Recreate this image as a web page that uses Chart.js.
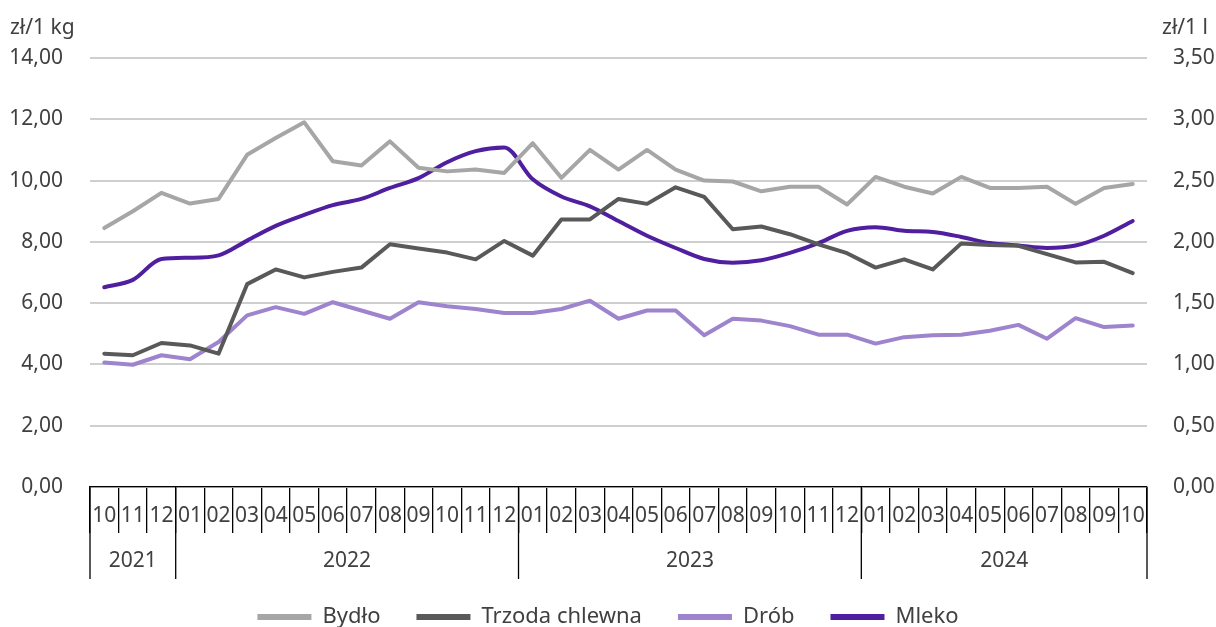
<!DOCTYPE html>
<html><head><meta charset="utf-8">
<script src="https://cdn.jsdelivr.net/npm/chart.js@4"></script>
<style>html,body{margin:0;padding:0;background:#fff}</style>
</head><body>
<canvas id="c" width="1216" height="627" style="width:1216px;height:627px;display:block"></canvas>
<script>
const months = ['10','11','12','01','02','03','04','05','06','07','08','09','10','11','12','01','02','03','04','05','06','07','08','09','10','11','12','01','02','03','04','05','06','07','08','09','10'];
const categoryYears = ['2021','2021','2021',
  '2022','2022','2022','2022','2022','2022','2022','2022','2022','2022','2022','2022',
  '2023','2023','2023','2023','2023','2023','2023','2023','2023','2023','2023','2023',
  '2024','2024','2024','2024','2024','2024','2024','2024','2024','2024'];
const bydlo = [8.45,9.0,9.6,9.25,9.4,10.84,11.39,11.9,10.63,10.49,11.28,10.42,10.3,10.36,10.25,11.22,10.09,11.0,10.36,11.0,10.36,10.0,9.97,9.65,9.8,9.8,9.22,10.12,9.8,9.58,10.12,9.76,9.76,9.8,9.24,9.76,9.89];
const trzoda = [4.35,4.3,4.7,4.62,4.35,6.62,7.1,6.84,7.02,7.16,7.92,7.78,7.65,7.43,8.03,7.55,8.73,8.73,9.4,9.24,9.78,9.47,8.41,8.5,8.25,7.92,7.63,7.16,7.43,7.1,7.95,7.9,7.87,7.6,7.33,7.35,6.98];
const drob = [4.06,3.99,4.3,4.17,4.73,5.6,5.87,5.65,6.03,5.76,5.49,6.03,5.9,5.81,5.68,5.68,5.81,6.08,5.49,5.76,5.76,4.95,5.49,5.43,5.25,4.97,4.97,4.68,4.89,4.95,4.97,5.1,5.29,4.84,5.51,5.22,5.27];
const mleko = [1.63,1.69,1.86,1.87,1.89,2.01,2.13,2.22,2.30,2.35,2.44,2.52,2.65,2.74,2.77,2.51,2.37,2.29,2.17,2.05,1.95,1.86,1.83,1.85,1.91,1.99,2.09,2.12,2.09,2.08,2.04,1.99,1.97,1.95,1.97,2.05,2.17];

const FONT = "'Noto Sans', 'Open Sans', sans-serif";
const TXT = '#404040';
const FS = 22;
const fmt = v => Number(v).toFixed(2).replace('.', ',');

const extras = {
  id: 'extras',
  afterDraw(chart) {
    const ctx = chart.ctx, xs = chart.scales.x;
    const half = (xs.getPixelForValue(1) - xs.getPixelForValue(0)) / 2;
    const top = xs.top;
    ctx.save();
    ctx.strokeStyle = '#000'; ctx.lineWidth = 1.3;
    const bounds = [];
    for (let i = 0; i < categoryYears.length; i++) {
      if (i === 0 || categoryYears[i] !== categoryYears[i - 1]) bounds.push({i, x: xs.getPixelForValue(i) - half});
    }
    const endX = xs.getPixelForValue(categoryYears.length - 1) + half;
    ctx.beginPath();
    bounds.forEach(b => { ctx.moveTo(b.x, top); ctx.lineTo(b.x, top + 92); });
    ctx.moveTo(endX, top); ctx.lineTo(endX, top + 92);
    ctx.stroke();
    ctx.fillStyle = TXT; ctx.font = '21px ' + FONT; ctx.textAlign = 'center'; ctx.textBaseline = 'middle';
    bounds.forEach((b, k) => {
      const x2 = k + 1 < bounds.length ? bounds[k + 1].x : endX;
      ctx.fillText(categoryYears[b.i], (b.x + x2) / 2, top + 74);
    });
    ctx.textBaseline = 'alphabetic';
    ctx.textAlign = 'left'; ctx.fillText('zł/1 kg', 10, 34);
    ctx.textAlign = 'right'; ctx.fillText('zł/1 l', 1208, 34);
    ctx.restore();
  }
};

const ds = (label, data, color, axis, smooth) => ({
  label, data, borderColor: color, backgroundColor: color, borderWidth: 4,
  pointRadius: 0, pointHoverRadius: 0, yAxisID: axis,
  cubicInterpolationMode: smooth ? 'monotone' : 'default', tension: smooth ? 0.4 : 0,
  borderJoinStyle: 'round', borderCapStyle: 'round'
});

Chart.defaults.font.family = FONT;
Chart.defaults.font.size = FS;
Chart.defaults.color = TXT;

new Chart(document.getElementById('c'), {
  type: 'line',
  data: {
    labels: months,
    datasets: [
      ds('Bydło', bydlo, '#a6a6a6', 'yL'),
      ds('Trzoda chlewna', trzoda, '#595959', 'yL'),
      ds('Drób', drob, '#9d84cc', 'yL'),
      ds('Mleko', mleko, '#4f1f9f', 'yR', true)
    ]
  },
  options: {
    responsive: false, animation: false, devicePixelRatio: 1,
    layout: { padding: { top: 58, bottom: -11, left: 0, right: 0 } },
    plugins: {
      tooltip: { enabled: false },
      legend: {
        position: 'bottom',
        labels: {
          boxWidth: 54, boxHeight: 6, padding: 36, color: TXT, font: { size: FS },
          generateLabels(chart) {
            const items = Chart.defaults.plugins.legend.labels.generateLabels(chart);
            items.forEach(it => { it.lineWidth = 0; it.fillStyle = it.strokeStyle; });
            return items;
          }
        }
      }
    },
    scales: {
      x: {
        type: 'category', offset: true,
        grid: { offset: true, drawOnChartArea: false, tickLength: 46, color: '#000', lineWidth: 1.3 },
        border: { display: true, color: '#000', width: 1.3 },
        ticks: { autoSkip: false, maxRotation: 0, minRotation: 0, padding: -30, color: TXT, font: { size: 21 } },
        afterFit(s) { s.height = 83; }
      },
      yL: {
        position: 'left', min: 0, max: 14,
        ticks: { stepSize: 2, callback: fmt, padding: 27, color: TXT, font: { size: 21 } },
        grid: { color: '#cfcfcf', lineWidth: 2, drawTicks: false },
        border: { display: false },
        afterFit(s) { s.width = 90; }
      },
      yR: {
        position: 'right', min: 0, max: 3.5,
        ticks: { stepSize: 0.5, callback: fmt, padding: 18, color: TXT, font: { size: 21 } },
        grid: { display: false, drawOnChartArea: false },
        border: { display: false },
        afterFit(s) { s.width = 69; }
      }
    }
  },
  plugins: [extras]
});
</script>
</body></html>
